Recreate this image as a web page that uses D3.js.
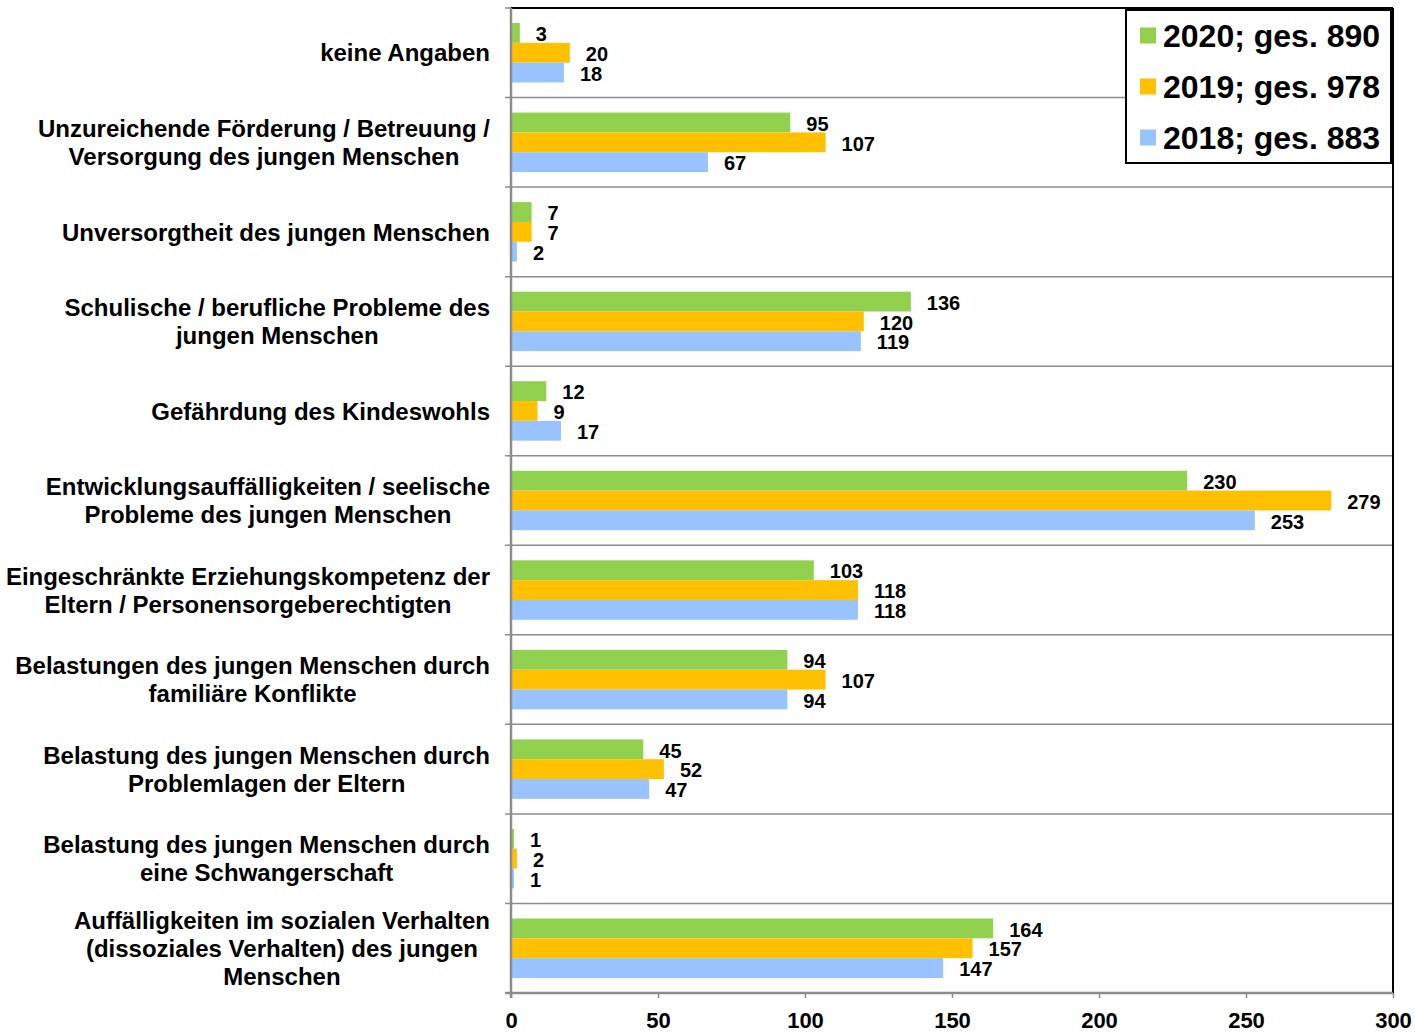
<!DOCTYPE html>
<html>
<head>
<meta charset="utf-8">
<script src="https://cdn.jsdelivr.net/npm/d3@7"></script>
<style>
  body { margin: 0; background: #fff; }
  text { font-family: "Liberation Sans", Arial, sans-serif; font-weight: bold; fill: #000; }
</style>
</head>
<body>
<div id="chart"></div>
<script>
// categories, top to bottom (lines split as in the original)
const categories = [
  ["keine Angaben"],
  ["Unzureichende Förderung / Betreuung /", "Versorgung des jungen Menschen"],
  ["Unversorgtheit des jungen Menschen"],
  ["Schulische / berufliche Probleme des", "jungen Menschen"],
  ["Gefährdung des Kindeswohls"],
  ["Entwicklungsauffälligkeiten / seelische", "Probleme des jungen Menschen"],
  ["Eingeschränkte Erziehungskompetenz der", "Eltern / Personensorgeberechtigten"],
  ["Belastungen des jungen Menschen durch", "familiäre Konflikte"],
  ["Belastung des jungen Menschen durch", "Problemlagen der Eltern"],
  ["Belastung des jungen Menschen durch", "eine Schwangerschaft"],
  ["Auffälligkeiten im sozialen Verhalten", "(dissoziales Verhalten) des jungen", "Menschen"]
];

const v2020 = [3, 95, 7, 136, 12, 230, 103, 94, 45, 1, 164];
const v2019 = [20, 107, 7, 120, 9, 279, 118, 107, 52, 2, 157];
const v2018 = [18, 67, 2, 119, 17, 253, 118, 94, 47, 1, 147];

const seriesNames = ["2020; ges. 890", "2019; ges. 978", "2018; ges. 883"];
const seriesColors = ["#92D050", "#FFC000", "#99C3FF"];
const xTicks = [0, 50, 100, 150, 200, 250, 300];

const width = 1415, height = 1033;
const plot = { left: 511, right: 1393, top: 8, bottom: 993 };

const svg = d3.select("#chart").append("svg")
  .attr("width", width)
  .attr("height", height);

const keys = categories.map((c, i) => "c" + i);
const series = [v2020, v2019, v2018];

const x = d3.scaleLinear().domain([0, 300]).range([plot.left, plot.right]);
const y = d3.scaleBand().domain(keys).range([plot.top, plot.bottom]);
const inner = d3.scaleBand().domain(d3.range(3))
  .range([y.bandwidth() * 0.168, y.bandwidth() * 0.832]);

// horizontal separators between categories
const bounds = keys.map(k => y(k)).slice(1);
svg.append("g")
  .selectAll("line")
  .data(bounds)
  .join("line")
  .attr("x1", plot.left - 6)
  .attr("x2", plot.right)
  .attr("y1", d => d)
  .attr("y2", d => d)
  .attr("stroke", "#8c8c8c")
  .attr("stroke-width", 1.5);

// bars
const groups = svg.append("g")
  .selectAll("g")
  .data(keys)
  .join("g")
  .attr("transform", k => `translate(0,${y(k)})`);

groups.each(function(k, i) {
  const g = d3.select(this);
  const rows = series.map((s, j) => ({ j: j, v: s[i] }));
  g.selectAll("rect")
    .data(rows)
    .join("rect")
    .attr("x", x(0))
    .attr("y", d => inner(d.j))
    .attr("width", d => x(d.v) - x(0))
    .attr("height", inner.bandwidth())
    .attr("fill", d => seriesColors[d.j]);
  g.selectAll("text.val")
    .data(rows)
    .join("text")
    .attr("class", "val")
    .attr("x", d => x(d.v) + 16)
    .attr("y", d => inner(d.j) + inner.bandwidth() / 2 + 1)
    .attr("dy", "0.36em")
    .style("font-size", "20px")
    .text(d => d.v);
});

// top and right border
svg.append("line")
  .attr("x1", plot.left).attr("x2", plot.right)
  .attr("y1", plot.top).attr("y2", plot.top)
  .attr("stroke", "#000").attr("stroke-width", 2);
svg.append("line")
  .attr("x1", plot.right).attr("x2", plot.right)
  .attr("y1", plot.top).attr("y2", plot.bottom)
  .attr("stroke", "#000").attr("stroke-width", 2);

// left axis line with ticks at the band edges
svg.append("line")
  .attr("x1", plot.left).attr("x2", plot.left)
  .attr("y1", plot.top).attr("y2", plot.bottom + 5)
  .attr("stroke", "#8c8c8c").attr("stroke-width", 2.5);
svg.append("line")
  .attr("x1", plot.left - 6).attr("x2", plot.left)
  .attr("y1", plot.top).attr("y2", plot.top)
  .attr("stroke", "#8c8c8c").attr("stroke-width", 1.5);

// x axis
const xAxis = svg.append("g")
  .attr("transform", `translate(0,${plot.bottom})`)
  .call(d3.axisBottom(x).tickValues(xTicks).tickSize(5).tickPadding(14));
xAxis.select(".domain")
  .attr("stroke", "#8c8c8c").attr("stroke-width", 2.5)
  .attr("d", `M${plot.left - 6},0H${plot.right}`);
xAxis.selectAll(".tick line").attr("stroke", "#8c8c8c").attr("stroke-width", 1.5);
xAxis.selectAll(".tick text")
  .style("font-size", "22px")
  .style("font-family", "'Liberation Sans', Arial, sans-serif")
  .style("font-weight", "bold")
  .attr("fill", "#000");

// category labels: block right-aligned, lines centred within the block
const lineH = 28;
const labels = svg.append("g")
  .selectAll("g")
  .data(keys)
  .join("g");

labels.each(function(k, i) {
  const lines = categories[i];
  const g = d3.select(this);
  const cy = y(k) + y.bandwidth() / 2;
  const t = g.selectAll("text")
    .data(lines)
    .join("text")
    .style("font-size", "24px")
    .attr("text-anchor", "middle")
    .attr("y", (d, j) => cy + (j - (lines.length - 1) / 2) * lineH)
    .attr("dy", "0.36em")
    .text(d => d);
  let maxW = 0;
  t.each(function() { maxW = Math.max(maxW, this.getComputedTextLength()); });
  t.attr("x", 490 - maxW / 2);
});

// legend
const lg = svg.append("g");
lg.append("rect")
  .attr("x", 1126).attr("y", 10)
  .attr("width", 265).attr("height", 153)
  .attr("fill", "#fff").attr("stroke", "#000").attr("stroke-width", 2);
const items = lg.selectAll("g")
  .data(seriesNames)
  .join("g")
  .attr("transform", (d, i) => `translate(1140,${35.5 + i * 51})`);
items.append("rect")
  .attr("x", 0).attr("y", -8)
  .attr("width", 16).attr("height", 16)
  .attr("fill", (d, i) => seriesColors[i]);
items.append("text")
  .attr("x", 23)
  .attr("dy", "0.36em")
  .style("font-size", "32px")
  .text(d => d);
</script>
</body>
</html>
